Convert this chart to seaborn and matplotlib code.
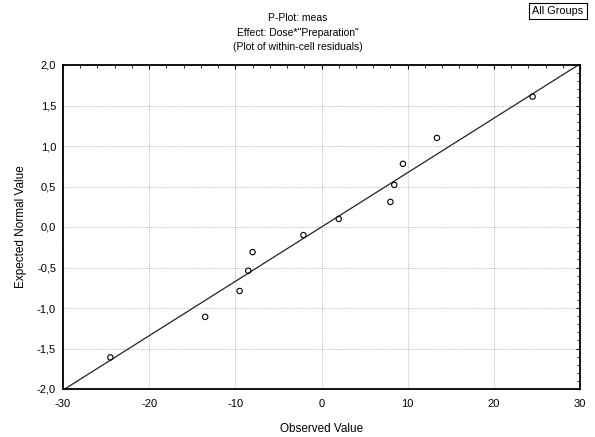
import matplotlib
matplotlib.use("Agg")
import matplotlib.pyplot as plt
import seaborn as sns
import numpy as np
import pandas as pd
from matplotlib.ticker import MultipleLocator, FuncFormatter

# Data
observed = [-24.5, -13.5, -9.5, -8.5, -8.0, -2.1, 2.0, 8.0, 8.45, 9.45, 13.4, 24.5]
expected = [-1.61, -1.11, -0.79, -0.54, -0.31, -0.10, 0.10, 0.31, 0.52, 0.78, 1.10, 1.61]
fit_slope = 1 / 14.9
fit_intercept = 0.0
line_x = [-30, 30]

x_ticks = [-30, -20, -10, 0, 10, 20, 30]
y_ticks = [-2.0, -1.5, -1.0, -0.5, 0.0, 0.5, 1.0, 1.5, 2.0]

sns.set_theme(style="white")
plt.rcParams['font.family'] = ['Liberation Sans', 'DejaVu Sans']
plt.rcParams['axes.unicode_minus'] = False

fig = plt.figure(figsize=(5.95, 4.37), dpi=100)
ax = fig.add_axes([63/595, 1 - 389/437, (580 - 63)/595, (389 - 65)/437])

df = pd.DataFrame({"Observed Value": observed, "Expected Normal Value": expected})
line_df = pd.DataFrame({"x": line_x,
                        "y": [fit_intercept + fit_slope * v for v in line_x]})

sns.lineplot(data=line_df, x="x", y="y", ax=ax, color="#222222", linewidth=0.9)
sns.scatterplot(data=df, x="Observed Value", y="Expected Normal Value", ax=ax,
                marker="o", s=15, facecolor="none", edgecolor="black",
                linewidth=0.8, zorder=3)

ax.set_xlim(-30, 30)
ax.set_ylim(-2.0, 2.0)
ax.set_xticks(x_ticks)
ax.set_yticks(y_ticks)
ax.xaxis.set_minor_locator(MultipleLocator(2))
ax.yaxis.set_minor_locator(MultipleLocator(0.1))
ax.yaxis.set_major_formatter(FuncFormatter(lambda v, p: f"{v:.1f}".replace(".", ",")))
ax.tick_params(which="both", direction="in", top=True, right=True, labelsize=8,
               color="black", labelcolor="black")
ax.tick_params(which="major", length=3, width=0.8, pad=5)
ax.tick_params(axis="x", which="major", pad=7)
ax.tick_params(which="minor", length=2, width=0.6)

ax.grid(True, which="major", linestyle=(0, (1, 1)), color="#bbbbbb", linewidth=0.7)
ax.set_axisbelow(True)
for s in ax.spines.values():
    s.set_color("black")
    s.set_linewidth(1.3)

ax.set_xlabel("Observed Value", fontsize=8.5, color="black", labelpad=10)
ax.set_ylabel("Expected Normal Value", fontsize=8.5, color="black", labelpad=7)

fig.text(0.5, 1 - 32.5/437, "P-Plot: meas\nEffect: Dose*\"Preparation\"\n(Plot of within-cell residuals)",
         ha="center", va="center", fontsize=7.5, linespacing=1.55, color="black")
fig.text(558/595, 1 - 11/437, "All Groups", ha="center", va="center", fontsize=7.8,
         color="black",
         bbox=dict(boxstyle="square,pad=0.3", facecolor="white", edgecolor="black", linewidth=0.8))

fig.savefig("out.png", dpi=100)
